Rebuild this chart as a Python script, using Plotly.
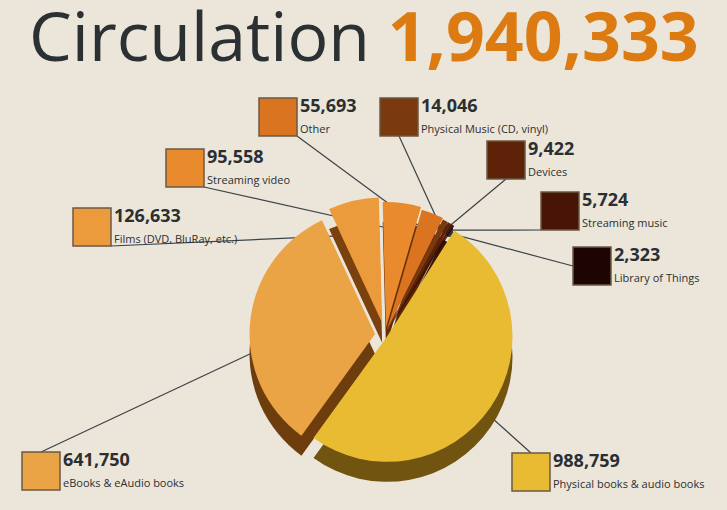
import numpy as np
import plotly.graph_objects as go

W, H = 727, 510

# ---------------- data ----------------
categories = ["Films (DVD, BluRay, etc.)", "Streaming video", "Other",
              "Physical Music (CD, vinyl)", "Devices", "Streaming music",
              "Library of Things", "Physical books & audio books",
              "eBooks & eAudio books"]
values = [126633, 95558, 55693, 14046, 9422, 5724, 2323, 988759, 641750]
value_labels = ["126,633", "95,558", "55,693", "14,046", "9,422", "5,724",
                "2,323", "988,759", "641,750"]
title_text = "Circulation"
total_label = "1,940,333"

# ---------------- styles ----------------
top_colors = ["#ec9b3c", "#e98b2d", "#da7420", "#7a3a0e", "#5d2208",
              "#471405", "#1c0503", "#e9bb33", "#eba445"]
side_colors = ["#7a400d", "#6a300a", "#5a2508", "#3a1505", "#2e0e03",
               "#220802", "#120302", "#705410", "#6e3d0e"]
pulls = [0.10, 0.06, 0.04, 0.03, 0.03, 0.03, 0.03, 0.02, 0.08]
dot_frac = [0.72, 0.78, 0.85, 0.93, 0.95, 0.95, 0.93, 0.55, 0.55]
# label square top-left (px) and leader anchor on the square (fraction)
sq_pos = [(73, 208), (166, 149), (259, 98), (380, 98), (487, 141),
          (541, 192), (573, 247), (512, 453), (22, 452)]
sq_anchor = [(1, 1), (1, 1), (1, 1), (0.5, 1), (0.5, 1), (0, 1), (0, 0.5),
             (0.5, 0), (0.5, 0)]
SQ = 38
BG = "#ece6da"
TXT = "#2b2f31"
FONT = "Open Sans"

# pie geometry (paper domain)
cx, cy, box = 385, 335, 276
depth = 20
rotation = -25
dom_x = [(cx - box / 2) / W, (cx + box / 2) / W]
dom_y = [1 - (cy + box / 2) / H, 1 - (cy - box / 2) / H]
dom_y_side = [1 - (cy + depth + box / 2) / H, 1 - (cy + depth - box / 2) / H]

fig = go.Figure()

# side (thickness) layer
fig.add_trace(go.Pie(labels=categories, values=values, sort=False,
                     direction="clockwise", rotation=rotation, pull=pulls,
                     marker=dict(colors=side_colors, line=dict(width=0)),
                     textinfo="none", hoverinfo="skip", showlegend=False,
                     domain=dict(x=dom_x, y=dom_y_side)))
# top face
fig.add_trace(go.Pie(labels=categories, values=values, sort=False,
                     direction="clockwise", rotation=rotation, pull=pulls,
                     marker=dict(colors=top_colors, line=dict(width=0)),
                     textinfo="none", hoverinfo="label+value",
                     showlegend=False, domain=dict(x=dom_x, y=dom_y)))

# leader dots positioned from the pie geometry derived from the data
vals = np.array(values, dtype=float)
max_pull = max(pulls)
r = box / (2 + 2 * max_pull)
cum = np.cumsum(vals) - vals / 2
mid = np.radians(rotation + cum / vals.sum() * 360)
lx, ly, dx, dy = [], [], [], []
for i in range(len(values)):
    rho = (dot_frac[i] + pulls[i]) * r
    px = cx + rho * np.sin(mid[i])
    py = cy - rho * np.cos(mid[i])
    dx.append(px)
    dy.append(py)
    ax = sq_pos[i][0] + sq_anchor[i][0] * SQ
    ay = sq_pos[i][1] + sq_anchor[i][1] * SQ
    lx += [ax, px, None]
    ly += [ay, py, None]

fig.add_trace(go.Scatter(x=lx, y=ly, mode="lines",
                         line=dict(color="#3a4348", width=1.2),
                         hoverinfo="skip", showlegend=False))
fig.add_trace(go.Scatter(x=dx, y=dy, mode="markers",
                         marker=dict(color="#2f3b41", size=8),
                         hoverinfo="skip", showlegend=False))

shapes = []
annotations = []
for i in range(len(values)):
    x0, y0 = sq_pos[i]
    shapes.append(dict(type="rect", xref="x", yref="y", x0=x0, y0=y0,
                       x1=x0 + SQ, y1=y0 + SQ, fillcolor=top_colors[i],
                       line=dict(color="#6b5a46", width=1.5), layer="above"))
    annotations.append(dict(x=x0 + SQ + 1, y=y0 + 21, xref="x", yref="y",
                            xanchor="left", yanchor="bottom", showarrow=False,
                            text="<b>" + value_labels[i] + "</b>",
                            font=dict(family=FONT, size=18, color=TXT)))
    annotations.append(dict(x=x0 + SQ + 1, y=y0 + 21, xref="x", yref="y",
                            xanchor="left", yanchor="top", showarrow=False,
                            text=categories[i],
                            font=dict(family=FONT, size=11, color=TXT)))

annotations.append(dict(x=27, y=34, xref="x", yref="y", xanchor="left",
                        yanchor="middle", showarrow=False,
                        text=title_text + " <b><span style='color:#dc7b12'>"
                        + total_label + "</span></b>",
                        font=dict(family=FONT, size=68, color="#2b3033")))

fig.update_layout(
    width=W, height=H, margin=dict(l=0, r=0, t=0, b=0),
    paper_bgcolor=BG, plot_bgcolor="rgba(0,0,0,0)",
    xaxis=dict(range=[0, W], visible=False, fixedrange=True),
    yaxis=dict(range=[H, 0], visible=False, fixedrange=True),
    shapes=shapes, annotations=annotations,
)

fig.write_html("out.html", config={"displayModeBar": False},
               post_script="document.body.style.margin='0';"
                           "document.body.style.background='" + BG + "';")
